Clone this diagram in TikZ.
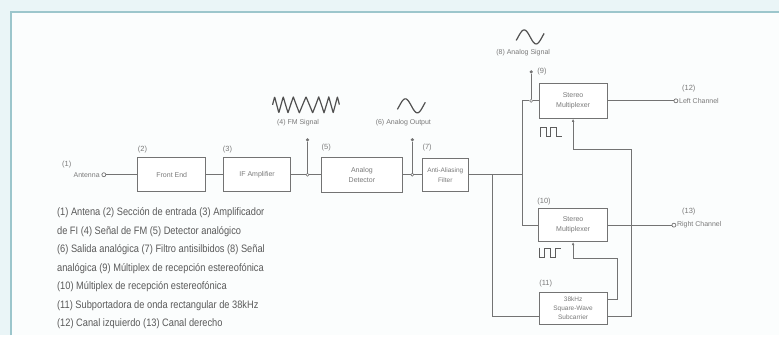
\documentclass[tikz,border=0pt]{standalone}
\usepackage{fontspec}
\setmainfont{Liberation Sans}
\newfontfamily\capfont[FakeStretch=0.86]{Liberation Sans}
\usetikzlibrary{arrows.meta,calc}
\definecolor{ln}{HTML}{737373}
\definecolor{tx}{HTML}{7A7A7A}
\definecolor{captx}{HTML}{5A5A5A}
\definecolor{framec}{HTML}{9CC6CC}
\definecolor{outer}{HTML}{EAF5F7}
\definecolor{inner}{HTML}{FBFDFD}
\begin{document}
\begin{tikzpicture}[x=1pt,y=-1pt,
  blk/.style={draw=ln,line width=0.9pt,fill=white,inner sep=0pt,align=center,
    font=\fontsize{7}{10}\selectfont,text=tx},
  lbl/.style={font=\fontsize{7.5}{8}\selectfont,text=tx,inner sep=0pt},
  small/.style={font=\fontsize{7}{8}\selectfont,text=tx,inner sep=0pt},
  wire/.style={draw=ln,line width=0.85pt},
  term/.style={circle,draw=ln,line width=0.7pt,fill=white,inner sep=0pt,minimum size=4pt},
  jn/.style={circle,draw=ln,line width=0.6pt,fill=white,inner sep=0pt,minimum size=3pt},
  tapdot/.style={circle,fill=ln,inner sep=0pt,minimum size=3.5pt},
  wave/.style={draw=ln!70!black,line width=1.2pt,line join=round},
  sq/.style={draw=ln!80!black,line width=0.9pt},
  arr/.style={wire,-{Latex[length=3pt,width=2.6pt]}}
]
\fill[outer] (0,0) rectangle (780,336);
\fill[inner] (11,12) rectangle (780,336);
\draw[framec,line width=2.5pt] (11,336) -- (11,12) -- (780,12);
\useasboundingbox (0,0) rectangle (780,336);

% blocks
\node[blk,minimum width=68pt,minimum height=34pt] (fe) at (172,175) {Front End};
\node[blk,minimum width=67pt,minimum height=34pt] (ifa) at (257.5,175) {IF Amplifier};
\node[blk,minimum width=81pt,minimum height=35pt] (det) at (362.5,175) {Analog\\Detector};
\node[blk,minimum width=46pt,minimum height=33pt,font=\fontsize{6.5}{10}\selectfont] (flt) at (446,175) {Anti-Aliasing\\Filter};
\node[blk,minimum width=68pt,minimum height=35pt] (m9) at (574,101) {Stereo\\Multiplexer};
\node[blk,minimum width=69pt,minimum height=33pt] (m10) at (574,225.5) {Stereo\\Multiplexer};
\node[blk,minimum width=68pt,minimum height=32pt,font=\fontsize{6.5}{9}\selectfont] (sub) at (574,309) {38kHz\\Square-Wave\\Subcarrier};

% numbers
\node[lbl,anchor=west] (n1) at (62,165) {(1)};
\node[lbl,anchor=west] (n2) at (138,150) {(2)};
\node[lbl,anchor=west] (n3) at (223,150) {(3)};
\node[lbl,anchor=west] (n5) at (322,148) {(5)};
\node[lbl,anchor=west] (n7) at (423,148) {(7)};
\node[lbl,anchor=west] (n9) at (538,72) {(9)};
\node[lbl,anchor=west] (n10) at (538,202) {(10)};
\node[lbl,anchor=west] (n11) at (540,284) {(11)};
\node[lbl,anchor=west] (n12) at (683,89) {(12)};
\node[lbl,anchor=west] (n13) at (683,212) {(13)};

% antenna
\node[term] (ant) at (104,175) {};
\node[small,anchor=east] (antl) at (100,175) {Antenna};

% taps
\node[jn] (j4) at (308,175) {};
\node[tapdot] (d4) at (308,140) {};
\node[small] (l4) at (298.5,123) {(4) FM Signal};
\node[jn] (j6) at (413,175) {};
\node[tapdot] (d6) at (413,140) {};
\node[small] (l6) at (404,123) {(6) Analog Output};
\node[jn] (j8) at (532,101) {};
\node[tapdot] (d8) at (532,72) {};
\node[small] (l8) at (524,53) {(8) Analog Signal};

\coordinate (s1) at (493,175);
\coordinate (s2) at (523,175);
\coordinate (r1) at (618,259);
\coordinate (r2) at (632,150);

% wires
\draw[wire] (ant) -- (fe);
\draw[wire] (fe) -- (ifa);
\draw[wire] (ifa) -- (j4) -- (det);
\draw[wire] (d4) -- (j4);
\draw[wire] (det) -- (j6) -- (flt);
\draw[wire] (d6) -- (j6);
\draw[wire] (flt.east) -- (s2);
\draw[wire] (s2) |- (j8) -- (m9.west);
\draw[wire] (d8) -- (j8);
\draw[wire] (s2) |- (m10.west);
\draw[wire] (s1) |- ($(sub.south west)+(0,-9)$);
\draw[arr] ($(sub.north east)+(0,7)$) -| (r1) -| (m10.south);
\draw[arr] ($(sub.south east)+(0,-9)$) -| (r2) -| (m9.south);

% outputs
\node[term] (lc) at (677,101) {};
\node[small,anchor=west] (lcl) at (680,101) {Left Channel};
\node[term] (rc) at (675,225.5) {};
\node[small,anchor=west] (rcl) at (678,225.5) {Right Channel};
\draw[wire] (m9.east) -- (lc);
\draw[wire] (m10.east) -- (rc);

% waveforms
\draw[wave] plot[domain=0:1,samples=240] ({273+67*\x},{105-8*asin(sin(360*6.5*\x+90*sin(360*\x)))/90});
\draw[wave] plot[domain=-30:390,samples=60] ({398+28*(\x+30)/420},{106-7*sin(\x)});
\draw[wave] plot[domain=-30:390,samples=60] ({517+28*(\x+30)/420},{37-7*sin(\x)});
\draw[sq] (541,137)--(541,128)--(547,128)--(547,137)--(551,137)--(551,128)--(557,128)--(557,137)--(563,137);
\draw[sq] (540,248)--(540,258)--(545,258)--(545,249)--(551,249)--(551,258)--(556,258)--(556,249)--(562,249);

% caption
\node[anchor=north west,inner sep=0pt,align=left,text=captx,
  font=\capfont\fontsize{10.8}{18.5}\selectfont] (cap) at (57,208) {%
(1) Antena (2) Sección de entrada (3) Amplificador\\
de FI (4) Señal de FM (5) Detector analógico\\
(6) Salida analógica (7) Filtro antisilbidos (8) Señal\\
analógica (9) Múltiplex de recepción estereofónica\\
(10) Múltiplex de recepción estereofónica\\
(11) Subportadora de onda rectangular de 38kHz\\
(12) Canal izquierdo (13) Canal derecho};
\end{tikzpicture}
\end{document}
